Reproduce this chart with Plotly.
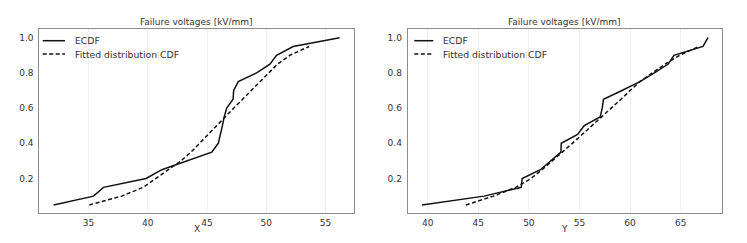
import plotly.graph_objects as go

# ECDF levels (shared)
ecdf_p = [0.05, 0.10, 0.15, 0.20, 0.25, 0.30, 0.35, 0.40, 0.45, 0.50,
          0.55, 0.60, 0.65, 0.70, 0.75, 0.80, 0.85, 0.90, 0.95, 1.00]
fit_p = ecdf_p[:-1]

# Left panel (X)
x_ecdf = [32.05, 35.42, 36.26, 39.86, 41.18, 43.3, 45.4, 45.95, 46.15, 46.3,
          46.45, 46.66, 47.2, 47.25, 47.64, 49.19, 50.31, 50.87, 52.27, 56.2]
x_fit = [35.06, 37.8, 39.6, 40.65, 41.7, 42.8, 43.65, 44.36, 45.07, 45.8,
         46.52, 47.26, 48.0, 48.73, 49.47, 50.2, 50.95, 52.0, 53.62]

# Right panel (Y)
y_ecdf = [39.44, 45.57, 49.25, 49.34, 51.14, 52.1, 53.17, 53.2, 54.81, 55.47,
          57.04, 57.25, 57.37, 59.2, 60.97, 62.4, 63.77, 64.33, 67.2, 67.7]
y_fit = [43.77, 46.5, 48.7, 50.2, 51.3, 52.35, 53.3, 54.3, 55.27, 56.24,
         57.2, 58.15, 59.1, 60.0, 60.97, 62.2, 63.45, 64.9, 66.8]

title_text = "Failure voltages [kV/mm]"
legend_labels = ["ECDF", "Fitted distribution CDF"]
x_ticks = [35, 40, 45, 50, 55]
y_ticks = [40, 45, 50, 55, 60, 65]
p_ticks = [0.2, 0.4, 0.6, 0.8, 1.0]

FONT = "DejaVu Sans"
TXT = "#333333"
LINE = "#111111"
DASH = "4px,2.5px"

# figure is drawn inside the page's 8px body margin
W, H = 731, 227


def px(x):
    return x / W


def py(y):
    return 1 - y / H


dom_x1 = [px(31.3), px(346.0)]
dom_x2 = [px(399.7), px(714.3)]
dom_y = [py(205.3), py(21.3)]

fig = go.Figure()
fig.add_trace(go.Scatter(x=x_ecdf, y=ecdf_p, mode="lines", name=legend_labels[0],
                         line=dict(color=LINE, width=1.5), xaxis="x", yaxis="y"))
fig.add_trace(go.Scatter(x=x_fit, y=fit_p, mode="lines", name=legend_labels[1],
                         line=dict(color=LINE, width=1.5, dash=DASH), xaxis="x", yaxis="y"))
fig.add_trace(go.Scatter(x=y_ecdf, y=ecdf_p, mode="lines", name=legend_labels[0],
                         line=dict(color=LINE, width=1.5), xaxis="x2", yaxis="y2"))
fig.add_trace(go.Scatter(x=y_fit, y=fit_p, mode="lines", name=legend_labels[1],
                         line=dict(color=LINE, width=1.5, dash=DASH), xaxis="x2", yaxis="y2"))

axis_common = dict(showline=True, linecolor="#8c8c8c", linewidth=1, mirror=True,
                   ticks="", tickfont=dict(family=FONT, size=9, color=TXT), zeroline=False)


def x_ax(rng, ticks, dom, anchor):
    return dict(range=rng, tickvals=ticks, ticktext=[str(t) for t in ticks], domain=dom,
                anchor=anchor, showgrid=True, gridcolor="#f1f1f1", gridwidth=1,
                ticklabelstandoff=1, **axis_common)


def y_ax(dom, anchor):
    return dict(range=[0.0025, 1.0475], tickvals=p_ticks,
                ticktext=[f"{t:.1f}" for t in p_ticks], domain=dom, anchor=anchor,
                showgrid=False, ticklabelstandoff=3, **axis_common)


annotations = []
shapes = []
panels = [(dom_x1, "X", (34.7, 57.0, 64.7)), (dom_x2, "Y", (406.3, 425.3, 432.7))]
for dom, axname, (lx0, lx1, tx) in panels:
    cx = (dom[0] + dom[1]) / 2
    annotations.append(dict(text=title_text, x=cx, y=py(13.8), xref="paper", yref="paper",
                            xanchor="center", yanchor="middle", showarrow=False,
                            font=dict(family=FONT, size=9, color=TXT)))
    annotations.append(dict(text=axname, x=cx, y=0, xref="paper", yref="paper",
                            xanchor="center", yanchor="bottom", showarrow=False,
                            borderpad=0, font=dict(family=FONT, size=9, color=TXT)))
    for i, (lab, dash) in enumerate(zip(legend_labels, ["solid", DASH])):
        ry = 32.7 + i * 13.3
        shapes.append(dict(type="line", xref="paper", yref="paper",
                           x0=px(lx0), x1=px(lx1), y0=py(ry), y1=py(ry),
                           line=dict(color=LINE, width=1.5, dash=dash)))
        annotations.append(dict(text=lab, x=px(tx), y=py(ry), xref="paper", yref="paper",
                                xanchor="left", yanchor="middle", showarrow=False,
                                font=dict(family=FONT, size=9.3, color=TXT)))

fig.update_layout(
    width=W, height=H,
    margin=dict(l=0, r=0, t=0, b=0),
    paper_bgcolor="white", plot_bgcolor="white",
    showlegend=False,
    xaxis=x_ax([30.84, 57.41], x_ticks, dom_x1, "y"),
    yaxis=y_ax(dom_y, "x"),
    xaxis2=x_ax([38.03, 69.11], y_ticks, dom_x2, "y2"),
    yaxis2=y_ax(dom_y, "x2"),
    annotations=annotations,
    shapes=shapes,
)

fig.write_html("out.html")
